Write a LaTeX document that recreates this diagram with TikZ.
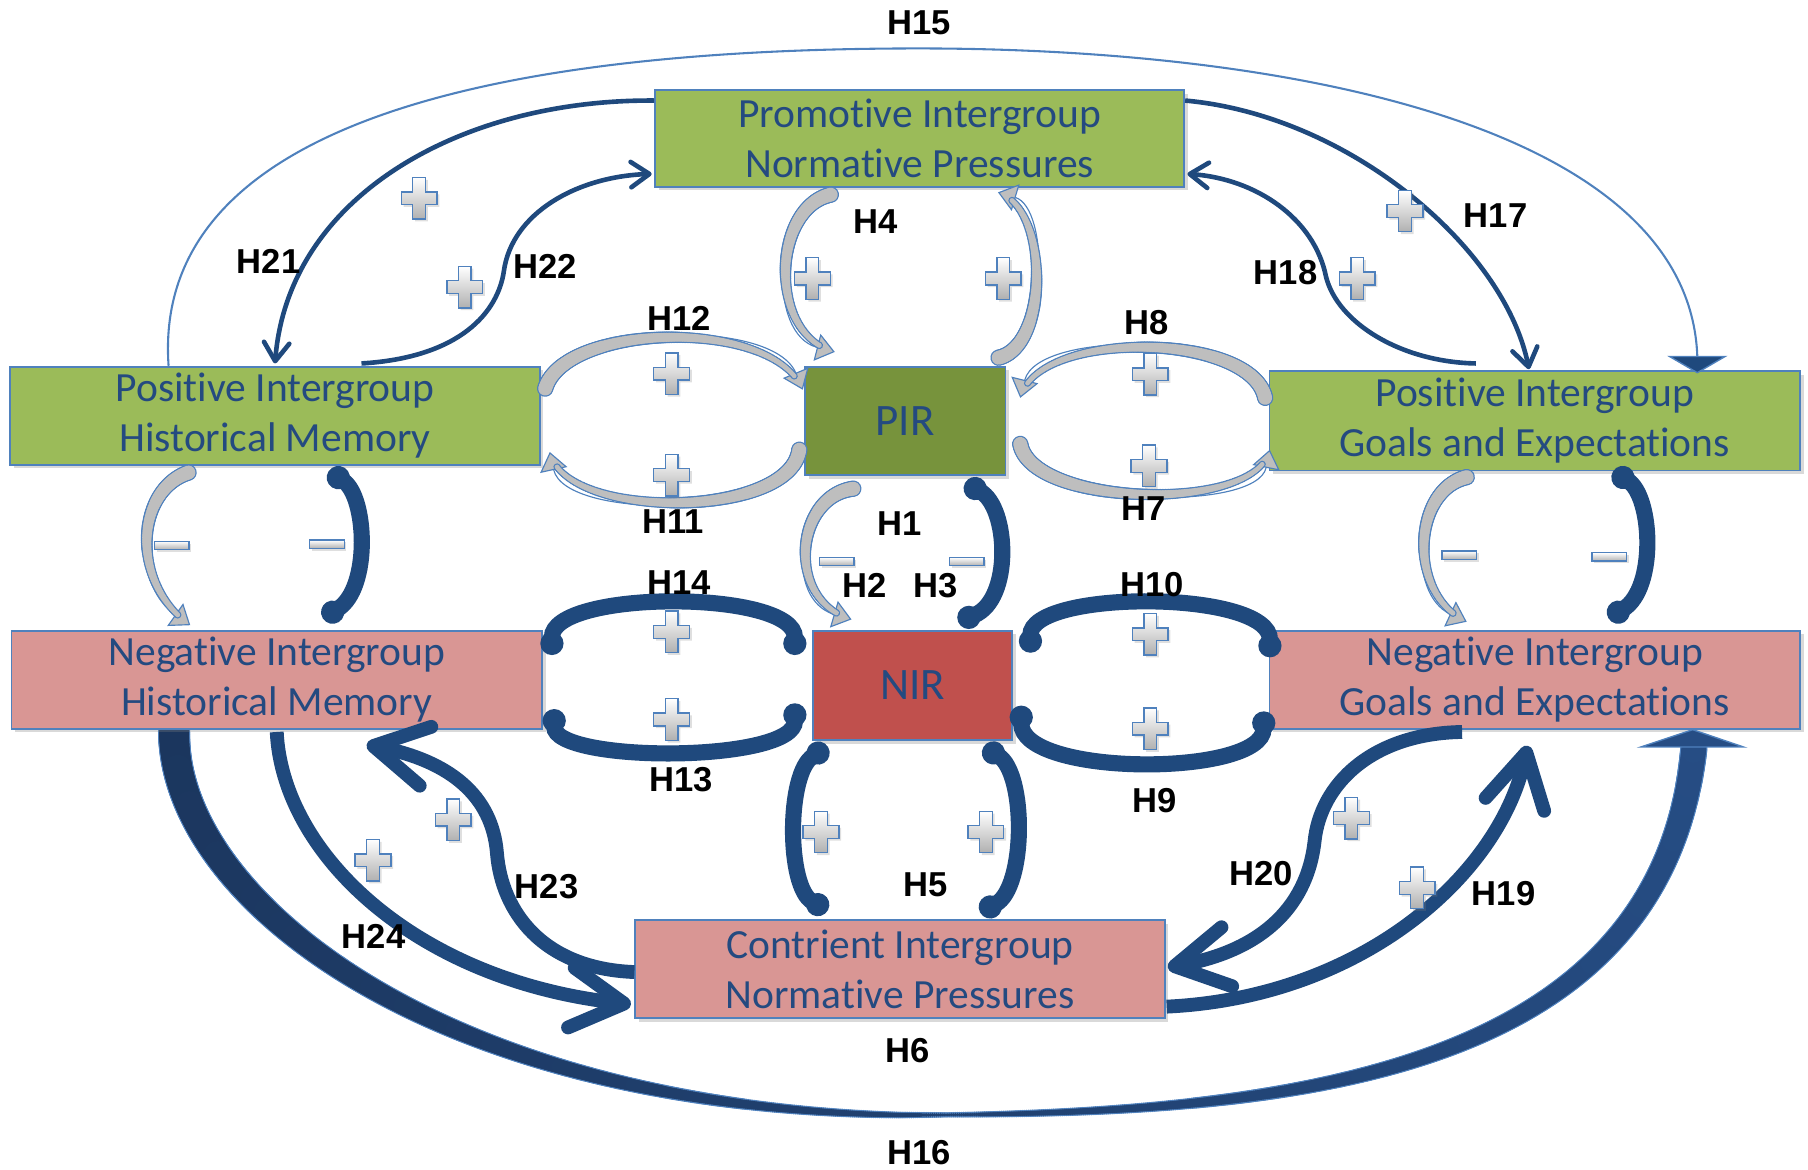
\documentclass[tikz,border=0pt]{standalone}
\usepackage{fontspec}
\setmainfont{Carlito}[Ligatures=NoCommon]
\newfontfamily\labfont{Liberation Sans}
\usetikzlibrary{calc,arrows.meta,shadows,decorations.markings}
\pgfdeclarelayer{background}
\pgfsetlayers{background,main}

\definecolor{boxgreen}{HTML}{9BBB59}
\definecolor{pirgreen}{HTML}{77933C}
\definecolor{boxpink}{HTML}{D99694}
\definecolor{nirred}{HTML}{C0504D}
\definecolor{edgeblue}{HTML}{4F81BD}
\definecolor{darknavy}{HTML}{1F497D}
\definecolor{txtblue}{HTML}{244A80}
\definecolor{tapergray}{HTML}{BEBEBE}
\definecolor{signgray}{HTML}{B0B0B0}
\definecolor{bandleft}{HTML}{1B365E}
\definecolor{bandright}{HTML}{264D84}

\tikzset{
  boxbase/.style={draw=edgeblue, line width=0.8pt, text=txtblue, align=center,
    inner sep=0pt, font=\fontsize{18}{21.7}\selectfont,
    drop shadow={shadow xshift=1.6pt, shadow yshift=-1.6pt, opacity=0.3}},
  widebox/.style={boxbase, minimum width=229.5pt, minimum height=42.5pt},
  corebox/.style={boxbase, minimum width=87pt, minimum height=47pt,
    font=\fontsize{19.5}{22}\selectfont},
  hlabel/.style={font=\labfont\bfseries\fontsize{15}{16}\selectfont, inner sep=0pt},
  hairlink/.style={draw=edgeblue, line width=0.9pt},
  thinlink/.style={draw=darknavy, line width=2pt,
    -{Straight Barb[length=8pt,width=11pt,round]}},
  thicklink/.style={draw=darknavy, line width=6pt,
    -{Straight Barb[length=23pt,width=26pt,round]}},
  band/.style={draw=darknavy, line width=7pt,
    {Circle[length=10pt]}-{Circle[length=10pt]}},
  % gray curved arrow whose body narrows from radius #1 to radius #2 (in pt)
  graylink/.style n args={2}{draw=edgeblue, line width=0.5pt,
    -{Triangle[length=8pt,width=12pt,fill=tapergray]},
    postaction={decorate, decoration={markings,
      mark=between positions 0 and -7pt step 0.7pt with {%
        \pgfmathsetmacro\tapr{#1+(#2-#1)*\pgfkeysvalueof{/pgf/decoration/mark info/distance from start}/\pgfdecoratedpathlength+0.55}%
        \fill[edgeblue] (0,0) circle[radius=\tapr pt];}}},
    postaction={decorate, decoration={markings,
      mark=between positions 0 and -7pt step 0.7pt with {%
        \pgfmathsetmacro\tapr{#1+(#2-#1)*\pgfkeysvalueof{/pgf/decoration/mark info/distance from start}/\pgfdecoratedpathlength}%
        \fill[tapergray] (0,0) circle[radius=\tapr pt];}}}},
  % long bottom band: thick at both ends, thin in the middle
  bottomband/.style={
    postaction={decorate, decoration={markings,
      mark=between positions 0 and 1 step 0.9pt with {%
        \pgfmathsetmacro\bt{\pgfkeysvalueof{/pgf/decoration/mark info/distance from start}/\pgfdecoratedpathlength}%
        \pgfmathsetmacro\br{0.7+(\bt<0.5 ? 5.8 : 4.8)*abs(1-2*\bt)+0.5}%
        \fill[edgeblue] (0,0) circle[radius=\br pt];}}},
    postaction={decorate, decoration={markings,
      mark=between positions 0 and 1 step 0.9pt with {%
        \pgfmathsetmacro\bt{\pgfkeysvalueof{/pgf/decoration/mark info/distance from start}/\pgfdecoratedpathlength}%
        \pgfmathsetmacro\br{0.7+(\bt<0.5 ? 5.8 : 4.8)*abs(1-2*\bt)}%
        \pgfmathtruncatemacro\bm{100*\bt}%
        \fill[bandright!\bm!bandleft] (0,0) circle[radius=\br pt];}}}},
  plussign/.pic={
    \filldraw[draw=edgeblue, line width=0.6pt, top color=white, bottom color=signgray,
      drop shadow={opacity=0.25, shadow xshift=1pt, shadow yshift=-1pt}]
      (-5.5,-18) -- (5.5,-18) -- (5.5,-5.5) -- (15.5,-5.5) -- (15.5,5.5) -- (5.5,5.5)
      -- (5.5,18) -- (-5.5,18) -- (-5.5,5.5) -- (-15.5,5.5) -- (-15.5,-5.5) -- (-5.5,-5.5) -- cycle;},
  minussign/.pic={
    \filldraw[draw=edgeblue, line width=0.6pt, top color=white, bottom color=signgray,
      drop shadow={opacity=0.25, shadow xshift=1pt, shadow yshift=-1pt}]
      (-15,-3.6) rectangle (15,3.6);}
}

\begin{document}
\begin{tikzpicture}[x=0.5pt, y=-0.5pt]
\useasboundingbox (0,0) rectangle (1568,1014);

% ---------- boxes ----------
\node[widebox, fill=boxgreen, minimum height=42pt] (pnp) at (797.5,120) {Promotive Intergroup\\Normative Pressures};
\node[widebox, fill=boxgreen] (phm) at (238.5,360.5) {Positive Intergroup\\Historical Memory};
\node[corebox, fill=pirgreen] (pir) at (785,365) {PIR};
\node[widebox, fill=boxgreen, minimum width=230pt, minimum height=43pt] (pge) at (1331,365) {Positive Intergroup\\Goals and Expectations};
\node[widebox, fill=boxpink, minimum width=230pt] (nhm) at (240,589.5) {Negative Intergroup\\Historical Memory};
\node[corebox, fill=nirred, minimum width=86.5pt, minimum height=47.5pt] (nir) at (791.5,594.5) {NIR};
\node[widebox, fill=boxpink, minimum width=230pt] (nge) at (1331,589.5) {Negative Intergroup\\Goals and Expectations};
\node[widebox, fill=boxpink] (cnp) at (780.5,840.5) {Contrient Intergroup\\Normative Pressures};

% ---------- outer arcs ----------
\draw[hairlink] ($(phm.north west)+(138,0)$) .. controls (130,90) and (480,42) .. (797,42)
  .. controls (1120,42) and (1465,110) .. ($(pge.north)+(141,-12)$);
\filldraw[draw=edgeblue, fill=darknavy, line width=0.6pt]
  ($(pge.north)+(117,-12)$) -- ($(pge.north)+(141,2)$) -- ($(pge.north)+(165,-12)$) -- cycle;

\begin{pgfonlayer}{background}
\path[bottomband] ($(nhm.south)+(-89,2)$) .. controls (150,780) and (380,960) .. (781,967)
  .. controls (1100,967) and (1440,940) .. ($(nge.south)+(138,16)$);
\end{pgfonlayer}
\filldraw[draw=edgeblue, fill=bandright, line width=0.6pt]
  ($(nge.south)+(92,15)$) -- ($(nge.south)+(137,0)$) -- ($(nge.south)+(181,15)$) -- cycle;

% ---------- thin dark links ----------
\draw[thinlink] ($(pnp.north east)+(0,10)$) .. controls (1170,100) and (1305,215) .. ($(pge.north)+(-5,-1)$);
\draw[thinlink] ($(pge.north)+(-51,-6)$) .. controls (1215,314) and (1160,280) .. (1150,240)
  .. controls (1140,190) and (1090,155) .. ($(pnp.south east)+(2,-12)$);
\draw[thinlink] ($(pnp.north west)+(0,10)$) .. controls (400,86) and (250,170) .. ($(phm.north)+(0,-2)$);
\draw[thinlink] ($(phm.north)+(75,-2)$) .. controls (400,310) and (432,270) .. (437,235)
  .. controls (444,185) and (500,153) .. ($(pnp.south west)+(-2,-12)$);

% ---------- thick dark links ----------
\draw[thicklink] ($(cnp.west)+(0,2.5)$) .. controls (470,840) and (435,790) .. (431,740)
  .. controls (427,690) and (390,660) .. ($(nhm.south)+(78,13)$);
\draw[thicklink] ($(nhm.south)+(0,2)$) .. controls (245,740) and (360,850) .. ($(cnp.west)+(-3,30.5)$);
\draw[thicklink] ($(nge.south)+(-63,2)$) .. controls (1190,636) and (1145,680) .. (1140,730)
  .. controls (1133,790) and (1090,825) .. ($(cnp.east)+(2,-1.5)$);
\draw[thicklink] ($(cnp.east)+(1,32.5)$) .. controls (1180,865) and (1300,760) .. ($(nge.south)+(-6,14)$);

% ---------- gray curved arrows ----------
\draw[graylink={3}{0.9}] ($(phm.south)+(-75,6)$) .. controls (118,425) and (112,505) .. ($(nhm.north)+(-75,-4)$);
\draw[graylink={3}{0.9}] ($(pir.south)+(-45,11)$) .. controls (690,430) and (680,520) .. ($(nir.north)+(-53,-9)$);
\draw[graylink={3}{0.9}] ($(pge.south)+(-59,5)$) .. controls (1225,425) and (1220,515) .. ($(nge.north)+(-59,-7)$);
\draw[graylink={3}{0.9}] ($(pnp.south)+(-77,6)$) .. controls (670,180) and (665,290) .. ($(pir.north)+(-61,-12)$);
\draw[graylink={3}{0.9}] ($(pir.north)+(81,-7)$) .. controls (910,300) and (910,180) .. ($(pnp.south)+(68,4)$);
\draw[graylink={3}{0.9}] ($(phm.east)+(4,-23.5)$) .. controls (490,280) and (670,275) .. ($(pir.west)+(-1,-27)$);
\draw[graylink={3}{0.9}] ($(pir.west)+(-4,25)$) .. controls (685,450) and (490,452) .. ($(phm.east)+(8,31.5)$);
\draw[graylink={3}{0.9}] ($(pge.west)+(-3,-20)$) .. controls (1085,288) and (900,285) .. ($(pir.east)+(12,-20)$);
\draw[graylink={3}{0.9}] ($(pir.east)+(12,20)$) .. controls (895,440) and (1090,445) .. ($(pge.west)+(1,25)$);

% ---------- thick bands ----------
\draw[band] ($(nhm.east)+(8,-21.5)$) .. controls (478,511) and (690,511) .. ($(nir.west)+(-15,-26.5)$);
\draw[band] ($(nhm.east)+(10,25.5)$) .. controls (480,662) and (690,662) .. ($(nir.west)+(-15,15.5)$);
\draw[band] ($(nir.east)+(15,-28.5)$) .. controls (893,511) and (1102,511) .. ($(nge.west)+(1,-19.5)$);
\draw[band] ($(nir.east)+(7,17.5)$) .. controls (885,674) and (1095,674) .. ($(nge.west)+(-4,27.5)$);
\draw[band] ($(nir.south)+(-73.5,5)$) .. controls (682,670) and (682,770) .. ($(cnp.north)+(-62.5,-8)$);
\draw[band] ($(nir.south)+(61.5,5)$) .. controls (890,670) and (890,770) .. ($(cnp.north)+(69.5,-6)$);
\draw[band] ($(pir.south)+(52,6)$) .. controls (875,440) and (878,520) .. ($(nir.north)+(39.5,-7)$);
\draw[band] ($(phm.south)+(46.5,5)$) .. controls (318,430) and (322,510) .. ($(nhm.north)+(40,-10)$);
\draw[band] ($(pge.south)+(68,0)$) .. controls (1433,430) and (1437,510) .. ($(nge.north)+(64,-10)$);

% ---------- signs ----------
\foreach \p in {(363.5,172),(403,249),(704.5,241.5),(870,241.5),(582.5,324),(582.5,412),
  (997.5,324.5),(996.5,404),(1218.5,183),(1177,241.5),(582.5,548),(582.5,624),
  (997.5,550),(997.5,632),(712,721.5),(855,721.5),(393,711),(323.5,746),(1172,709.5),(1229,770)}
  \pic at \p {plussign};
\foreach \p in {(149,473),(283.5,472),(725.5,487),(838.5,487),(1265.5,481.5),(1395.5,483)}
  \pic at \p {minussign};

% ---------- hypothesis labels ----------
\node[hlabel] (lh15) at (797,20) {H15};
\node[hlabel] (lh16) at (797,1000) {H16};
\node[hlabel] (lh21) at (233,227) {H21};
\node[hlabel] (lh22) at (473,231) {H22};
\node[hlabel] (lh4) at (759,192) {H4};
\node[hlabel] (lh17) at (1297,187) {H17};
\node[hlabel] (lh18) at (1115,236) {H18};
\node[hlabel] (lh12) at (589,276) {H12};
\node[hlabel] (lh8) at (994,280) {H8};
\node[hlabel] (lh11) at (584,452) {H11};
\node[hlabel] (lh7) at (992,441) {H7};
\node[hlabel] (lh1) at (780,454) {H1};
\node[hlabel] (lh2) at (750,508) {H2};
\node[hlabel] (lh3) at (811,508) {H3};
\node[hlabel] (lh14) at (589,505) {H14};
\node[hlabel] (lh10) at (999,507) {H10};
\node[hlabel] (lh13) at (591,676) {H13};
\node[hlabel] (lh9) at (1001,694) {H9};
\node[hlabel] (lh5) at (803,767) {H5};
\node[hlabel] (lh20) at (1094,758) {H20};
\node[hlabel] (lh19) at (1304,775) {H19};
\node[hlabel] (lh23) at (474,769) {H23};
\node[hlabel] (lh24) at (324,812) {H24};
\node[hlabel] (lh6) at (787,911) {H6};
\end{tikzpicture}
\end{document}
